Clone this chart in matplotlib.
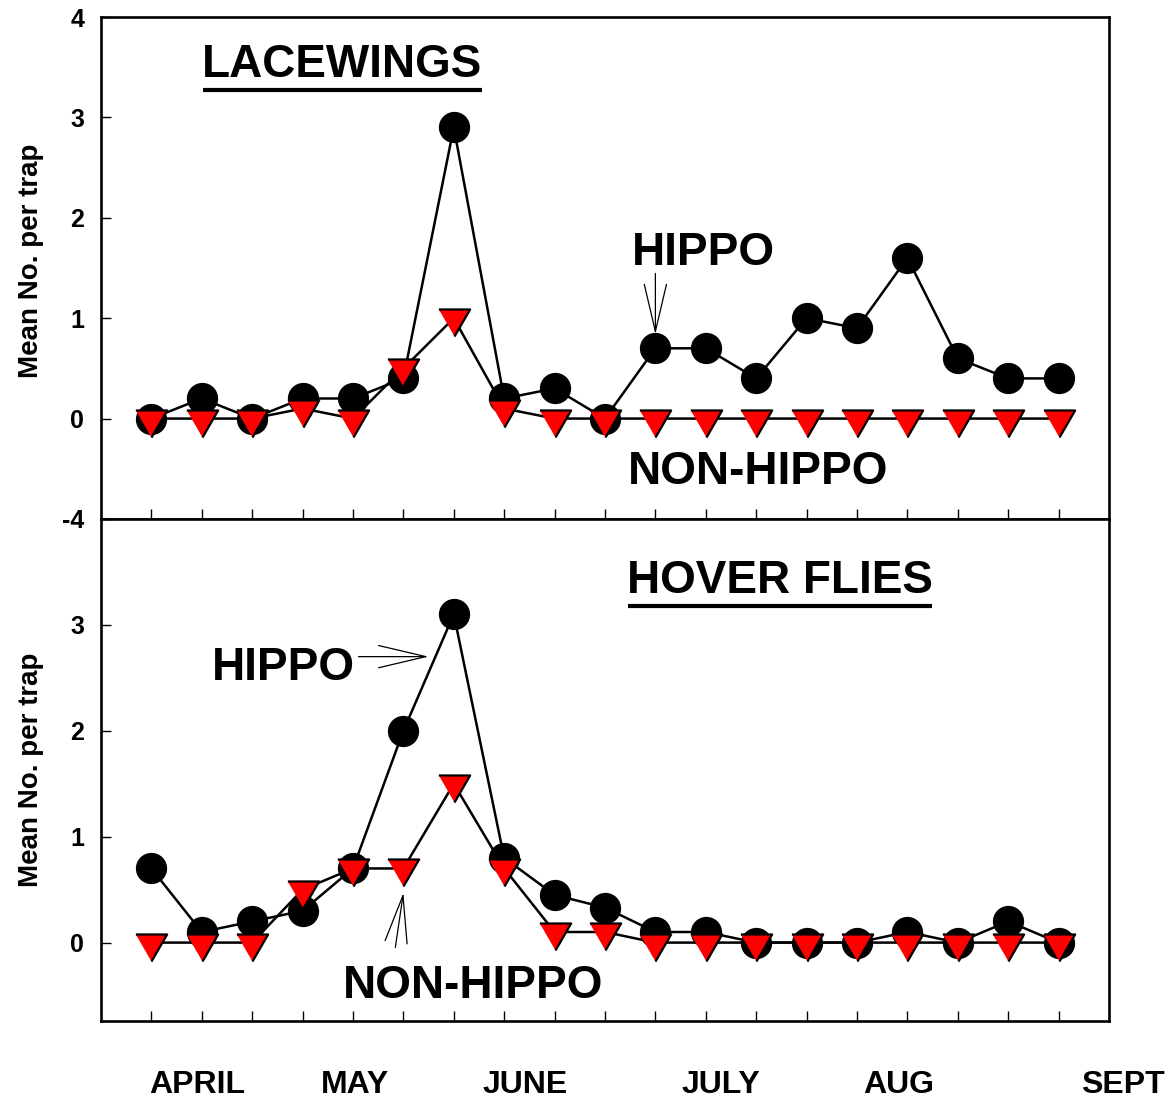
import matplotlib
matplotlib.use('Agg')
import matplotlib.pyplot as plt
from matplotlib.lines import Line2D

# ---------------- data ----------------
samples = list(range(19))
lace_hippo = [0, 0.2, 0, 0.2, 0.2, 0.4, 2.9, 0.2, 0.3, 0, 0.7, 0.7, 0.4, 1.0, 0.9, 1.6, 0.6, 0.4, 0.4]
lace_non = [0, 0, 0, 0.1, 0, 0.5, 1.0, 0.1, 0, 0, 0, 0, 0, 0, 0, 0, 0, 0, 0]
hover_hippo = [0.7, 0.1, 0.2, 0.3, 0.7, 2.0, 3.1, 0.8, 0.45, 0.33, 0.1, 0.1, 0, 0, 0, 0.1, 0, 0.2, 0]
hover_non = [0, 0, 0, 0.5, 0.7, 0.7, 1.5, 0.7, 0.1, 0.1, 0, 0, 0, 0, 0, 0, 0, 0, 0]

months = ['APRIL', 'MAY', 'JUNE', 'JULY', 'AUG', 'SEPT']
month_pos = [0.91, 4.05, 7.42, 11.29, 14.82, 18.45]

top_yticks = [-1, 0, 1, 2, 3, 4]
top_yticklabels = ['-4', '0', '1', '2', '3', '4']
bot_yticks = [0, 1, 2, 3, 4]
bot_yticklabels = ['0', '1', '2', '3', '']

plt.rcParams['font.family'] = ['Liberation Sans', 'DejaVu Sans']
plt.rcParams['font.weight'] = 'bold'

fig = plt.figure(figsize=(11.66, 10.99), dpi=100)
ax1 = fig.add_axes([0.0866, 0.5278, 0.8645, 0.4567])
ax2 = fig.add_axes([0.0866, 0.0710, 0.8645, 0.4568])

# downward triangle centred on its centroid
tri = [(-1, 0.577), (1, 0.577), (0, -1.155)]

def style(ax, ylim, yticks, ylabels):
    ax.set_xlim(-1, 19)
    ax.set_ylim(*ylim)
    ax.set_xticks(samples)
    ax.set_yticks(yticks)
    ax.set_yticklabels(ylabels)
    ax.tick_params(axis='both', direction='in', length=7, width=1,
                   labelsize=18, pad=12)
    ax.tick_params(axis='x', labelbottom=False, top=False)
    ax.tick_params(axis='y', right=False)
    for s in ax.spines.values():
        s.set_linewidth(1.9)
    ax.set_ylabel('Mean No. per trap', fontsize=20, fontweight='bold')

def draw(ax, hippo, non):
    ax.plot(samples, hippo, color='black', lw=1.8, marker='o', ms=21.5,
            mfc='black', mec='black', zorder=3)
    ax.plot(samples, non, color='black', lw=1.8, marker=tri, ms=26,
            mfc='#ff0000', mec='black', mew=1.6, zorder=4)

draw(ax1, lace_hippo, lace_non)
draw(ax2, hover_hippo, hover_non)
style(ax1, (-0.97, 4), top_yticks, top_yticklabels)
style(ax2, (-0.74, 4), bot_yticks, bot_yticklabels)
ax1.yaxis.set_label_coords(-0.057, 0.515)
ax2.yaxis.set_label_coords(-0.057, 0.5)

fs = 33
arrow = dict(arrowstyle='->,head_length=3.4,head_width=0.8', mutation_scale=10,
             lw=0.9, color='black', shrinkA=0, shrinkB=0)

t_lace = ax1.text(3.79, 3.40, 'LACEWINGS', fontsize=fs, fontweight='bold',
                  ha='center', va='baseline')
ax1.text(10.95, 1.525, 'HIPPO', fontsize=fs, fontweight='bold', ha='center', va='baseline')
ax1.text(12.04, -0.65, 'NON-HIPPO', fontsize=fs, fontweight='bold', ha='center', va='baseline')
ax1.annotate('', xy=(10.0, 0.84), xytext=(10.0, 1.445), arrowprops=arrow)

t_hover = ax2.text(12.48, 3.30, 'HOVER FLIES', fontsize=fs, fontweight='bold',
                   ha='center', va='baseline')
ax2.text(2.62, 2.48, 'HIPPO', fontsize=fs, fontweight='bold', ha='center', va='baseline')
ax2.text(6.39, -0.52, 'NON-HIPPO', fontsize=fs, fontweight='bold', ha='center', va='baseline')
ax2.annotate('', xy=(5.5, 2.70), xytext=(4.11, 2.70), arrowprops=arrow)
ax2.annotate('', xy=(5.0, 0.47), xytext=(4.84, -0.047), arrowprops=arrow)

for name, xp in zip(months, month_pos):
    ax2.text(xp, -0.143, name, fontsize=23, fontweight='bold',
             ha='left' if name == 'SEPT' else 'center', va='baseline',
             transform=ax2.get_xaxis_transform(), clip_on=False)

# underlines
fig.canvas.draw()
renderer = fig.canvas.get_renderer()
for ax, t in [(ax1, t_lace), (ax2, t_hover)]:
    bb = t.get_window_extent(renderer)
    base = ax.transData.transform(t.get_position())[1]
    yline = base - 13
    inv = fig.transFigure.inverted()
    (x0, y0), (x1, y1) = inv.transform([(bb.x0 + 1, yline), (bb.x1 - 1, yline)])
    fig.add_artist(Line2D([x0, x1], [y0, y1], lw=3, color='black',
                          solid_capstyle='butt', transform=fig.transFigure))

fig.savefig('out.png', dpi=100)
